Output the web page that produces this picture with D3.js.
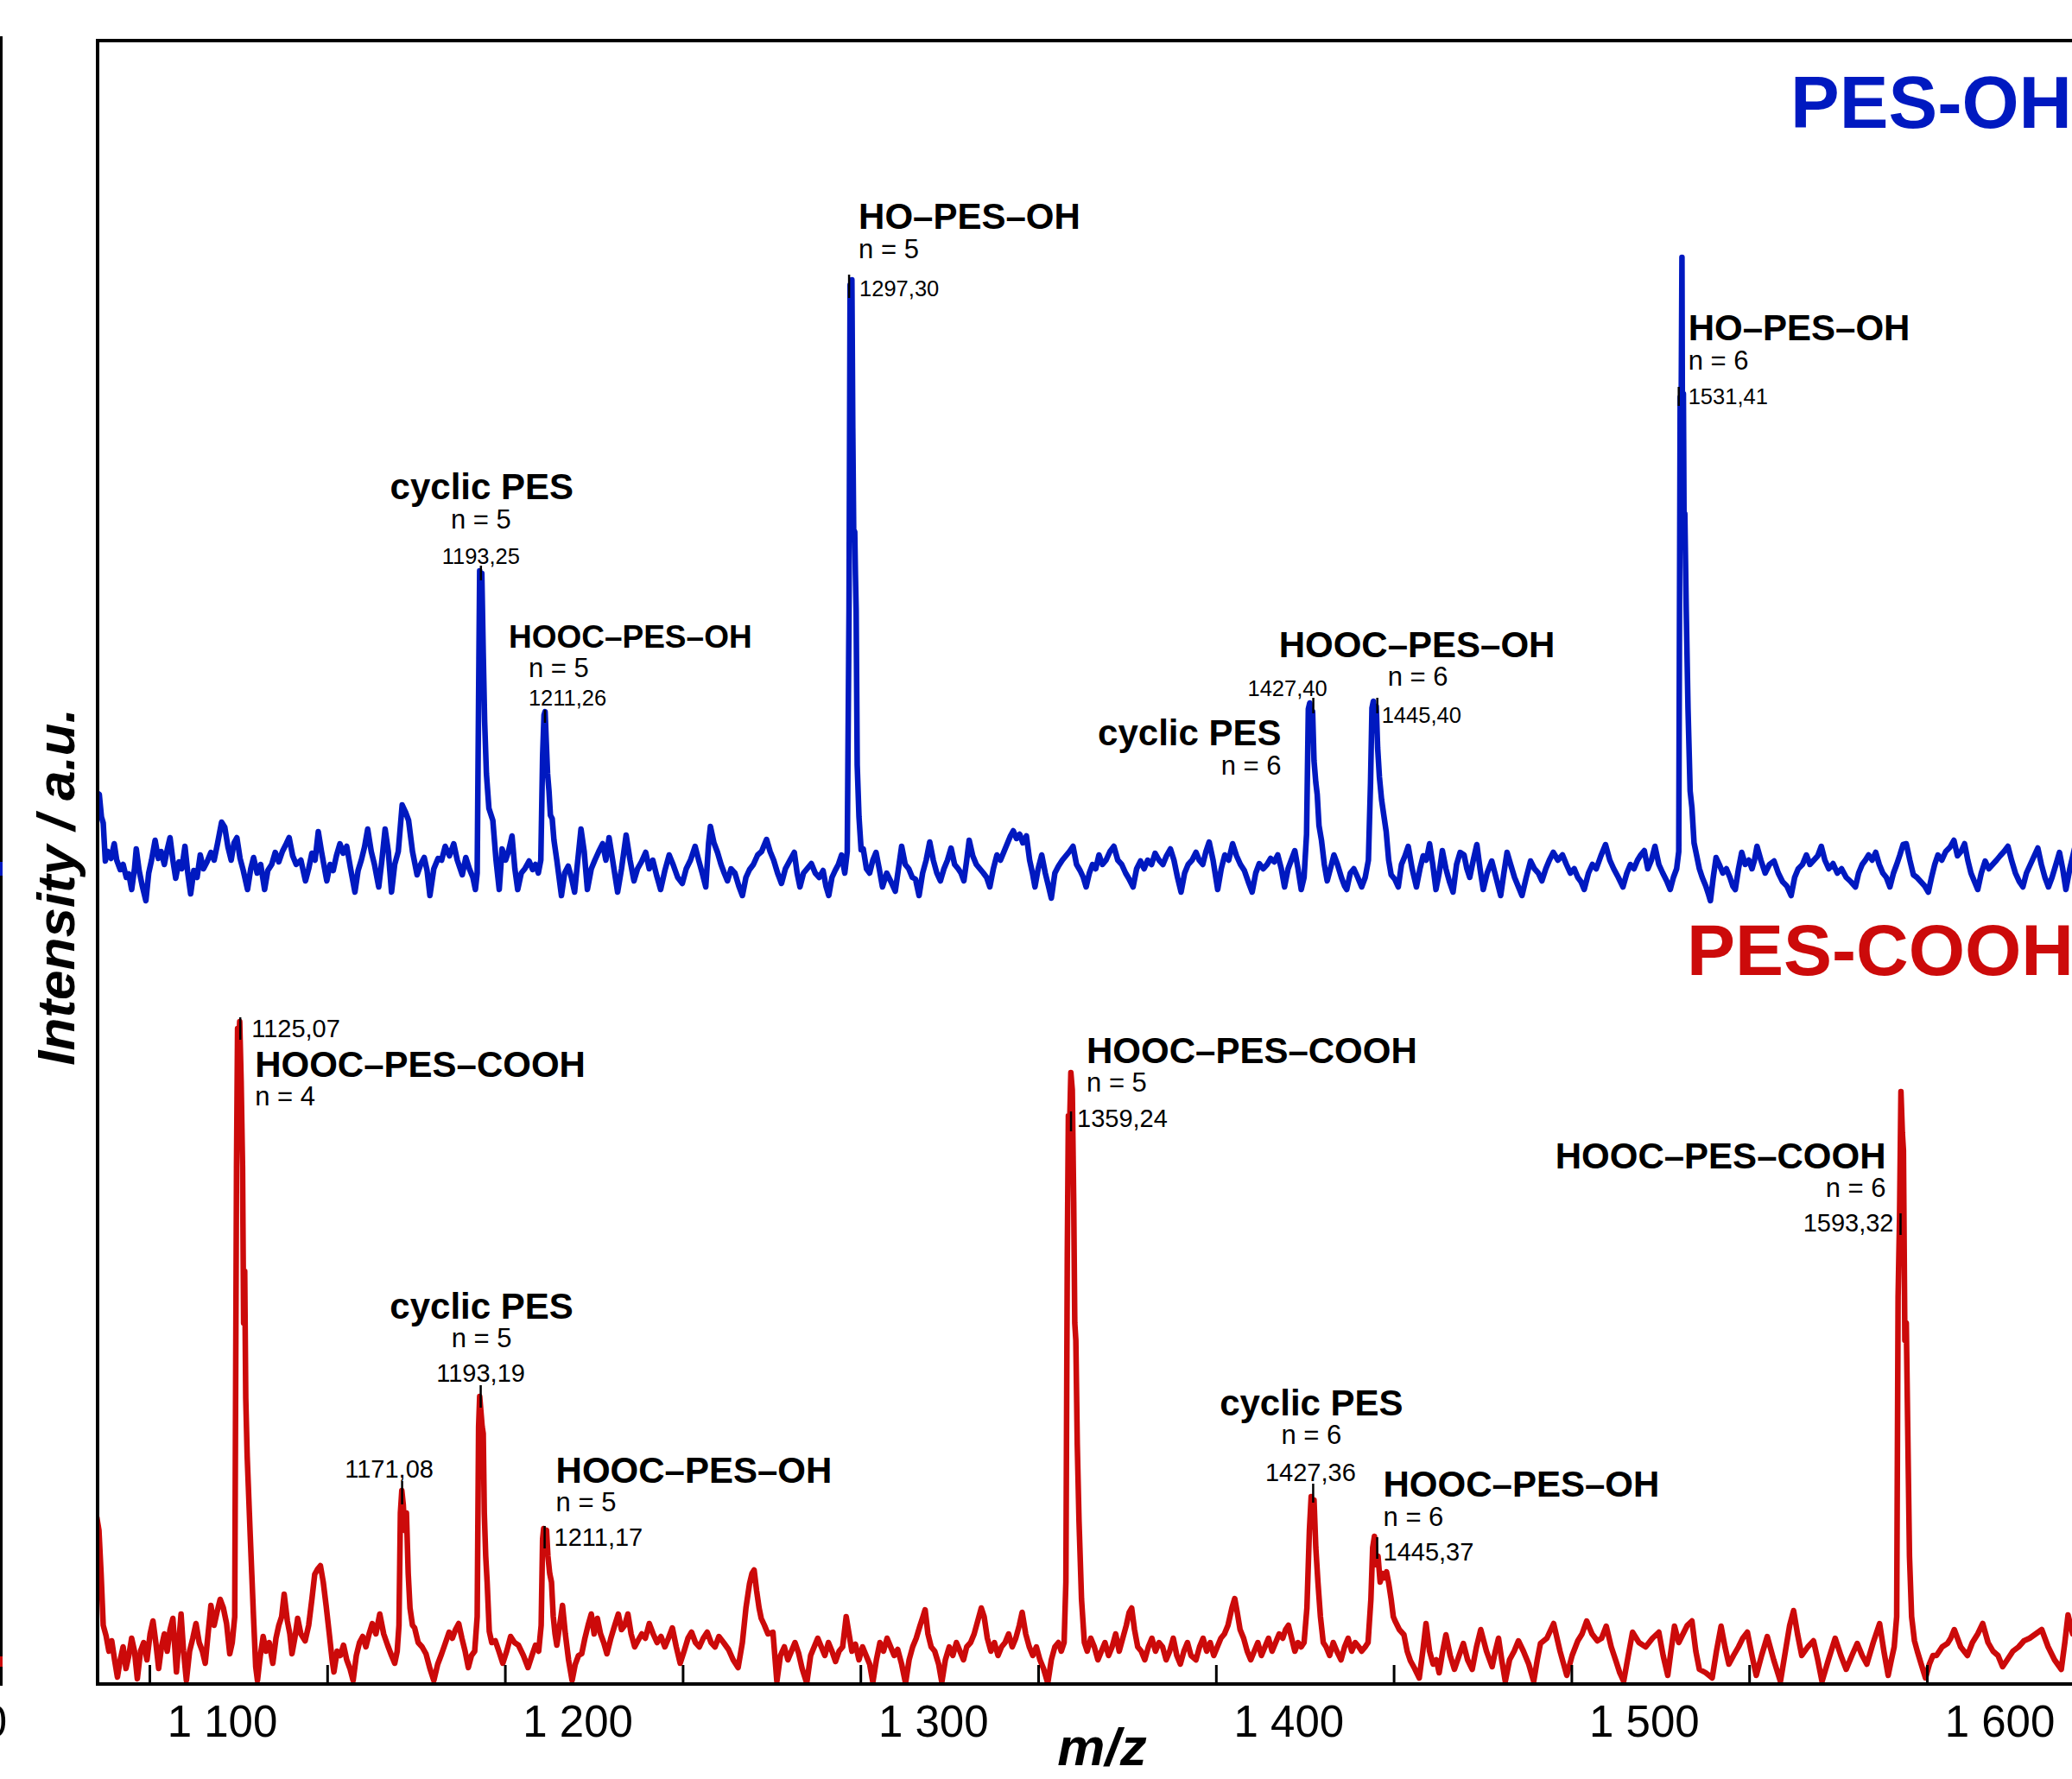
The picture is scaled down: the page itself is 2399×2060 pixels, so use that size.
<!DOCTYPE html>
<html>
<head>
<meta charset="utf-8">
<script src="https://cdn.jsdelivr.net/npm/d3@7"></script>
<style>
  body { margin: 0; background: #fff; }
  text { font-family: "Liberation Sans", Arial, sans-serif; }
</style>
</head>
<body>
<svg id="chart"></svg>
<script>
// ---- data (m/z, intensity a.u.) ----
const blueNoise = [
  [1085.2,138],[1085.9,136],[1086.5,110],[1087,103],[1087.6,59],[1088.3,70],[1089.2,62],[1090.1,79],[1090.8,60],[1091.8,49],
  [1092.6,55],[1093.5,40],[1094.2,44],[1095,26],[1095.8,50],[1096.3,73],[1097.1,48],[1098,30],[1099,13],[1099.8,45],
  [1100.6,60],[1101.6,83],[1102.5,62],[1103.3,70],[1104.2,55],[1105,72],[1105.8,86],[1106.6,60],[1107.4,39],[1108.3,58],
  [1109.1,50],[1110,76],[1110.8,45],[1111.6,21],[1112.5,48],[1113.4,40],[1114.3,66],[1115.2,50],[1116.2,58],[1117.3,69],
  [1118.2,60],[1119.2,80],[1120.3,104],[1121.2,98],[1122.1,75],[1123,60],[1123.8,80],[1124.6,86],[1125.5,62],[1126.4,48],
  [1127.6,26],[1128.5,50],[1129.3,63],[1130.3,45],[1131.3,55],[1132.4,26],[1133.3,48],[1134.4,55],[1135.4,69],[1136.4,58],
  [1137.4,70],[1138.5,79],[1139.3,86],[1140.3,65],[1141.3,55],[1142.6,60],[1143.9,36],[1144.8,50],[1145.7,68],[1146.6,60],
  [1147.5,93],[1148.4,70],[1149.9,36],[1150.8,55],[1151.7,48],[1152.6,65],[1153.6,79],[1154.5,68],[1155.5,76],[1156.6,50],
  [1157.8,23],[1158.7,48],[1159.6,60],[1160.5,75],[1161.4,96],[1162.4,70],[1163.3,55],[1164.5,29],[1165.4,60],[1166.3,96],
  [1167.2,70],[1168.1,23],[1169,55],[1170,70],[1171.1,124],[1172,116],[1172.9,106],[1174,70],[1175.3,43],[1176.3,55],
  [1177.3,63],[1178.1,48],[1178.9,19],[1180,50],[1181.2,62],[1182.2,60],[1183.2,76],[1184.4,65],[1185.6,79],[1186.6,60],
  [1188,43],[1189,63],[1190,50],[1191,40],[1191.7,26],
  [1197.5,60],[1198.4,26],[1199.2,73],[1200.2,60],[1201,70],[1202,88],[1202.8,50],[1203.6,26],[1204.6,45],[1205.6,50],
  [1206.8,59],[1207.8,49],[1208.6,55],[1209.4,45],
  [1214.6,60],[1215.9,19],[1216.8,45],[1217.8,53],[1218.7,40],[1219.6,23],[1220.5,60],[1221.4,96],[1222.3,70],[1223.2,26],
  [1224.3,50],[1225.3,60],[1226.4,70],[1227.5,79],[1228.4,60],[1229.3,86],[1230.3,60],[1231.7,23],[1232.8,50],[1234.1,89],
  [1235.2,60],[1236.3,36],[1237.3,50],[1238.4,58],[1239.6,69],[1240.6,50],[1241.6,60],[1242.7,42],[1243.8,26],[1245,48],
  [1246.2,66],[1247.3,55],[1248.6,40],[1249.9,33],[1251,50],[1252.2,60],[1253.5,76],[1254.5,60],[1255.5,45],[1256.5,29],
  [1257.3,80],[1257.8,99],[1258.8,80],[1259.8,69],[1260.8,55],[1261.7,45],[1262.6,36],[1263.6,50],[1264.7,45],[1265.8,30],
  [1266.8,19],[1267.8,40],[1268.8,49],[1269.9,55],[1271.1,66],[1272.2,70],[1273.6,84],[1274.6,70],[1275.6,60],[1276.7,45],
  [1277.8,33],[1278.9,50],[1280.2,60],[1281.4,69],[1282.2,45],[1283,29],[1284,45],[1285,50],[1286.2,56],[1287.3,45],
  [1288.4,40],[1289.5,48],[1290.3,30],[1291.1,19],[1292,40],[1292.9,48],[1293.8,55],[1294.7,66],[1295.6,45],
  [1300.8,73],[1301.7,50],[1302.6,45],[1303.5,60],[1304.4,69],[1305.3,50],[1306.2,29],[1307.4,45],[1308.6,35],[1309.8,24],
  [1310.7,50],[1311.6,76],[1312.6,55],[1313.6,50],[1314.6,40],[1315.5,38],[1316.5,19],[1317.5,45],[1318.5,60],[1319.5,81],
  [1320.5,60],[1321.5,45],[1322.5,36],[1323.5,50],[1324.5,60],[1325.5,74],[1326.5,55],[1327.5,50],[1328.3,45],[1329.1,36],
  [1329.9,60],[1330.6,83],[1331.6,65],[1332.6,55],[1333.6,50],[1334.6,45],[1335.5,40],[1336.4,29],[1337.4,50],[1338.4,66],
  [1339.4,60],[1340.4,70],[1341.4,80],[1342.2,88],[1343,94],[1343.9,85],[1344.8,90],[1345.7,80],[1346.7,88],[1347.6,60],
  [1348.4,45],[1349.1,29],[1350,50],[1351,66],[1352,45],[1352.9,30],[1353.7,16],[1354.7,45],[1355.7,53],[1356.8,60],
  [1357.8,65],[1358.8,70],[1359.8,76],[1360.8,55],[1361.8,48],[1362.7,40],[1363.5,29],[1364.4,45],[1365.3,55],[1366.2,50],
  [1367.1,66],[1368.1,55],[1369.1,60],[1370.2,70],[1371.3,76],[1372.4,60],[1373.5,55],[1374.6,45],[1375.6,38],[1376.7,29],
  [1377.7,50],[1378.8,59],[1379.8,50],[1380.8,60],[1381.9,55],[1382.9,68],[1384,60],[1385.1,55],[1386.1,65],[1387.2,73],
  [1388.2,60],[1389.2,40],[1390.2,23],[1391.2,45],[1392.2,55],[1393.3,60],[1394.4,69],[1395.3,60],[1396.3,55],[1397.2,70],
  [1398.1,81],[1399.2,60],[1400.5,26],[1401.5,50],[1402.5,66],[1403.6,60],[1404.7,79],[1405.8,65],[1406.9,55],[1408,48],
  [1409.1,35],[1410.2,23],[1411.2,45],[1412.2,56],[1413.3,50],[1414.4,55],[1415.4,62],[1416.4,58],[1417.4,66],[1418.4,50],
  [1419.3,29],[1420.3,50],[1421.2,60],[1422.2,71],[1423.1,50],[1424,26],[1424.8,40],
  [1430.5,55],[1431.3,36],[1432.2,50],[1433.2,66],[1434.2,55],[1435.3,40],[1436.2,30],[1436.8,26],[1437.8,45],[1438.8,50],
  [1439.9,40],[1441,29],[1442,40],
  [1449.3,43],[1450.3,38],[1451.3,29],[1452.2,55],[1453.2,65],[1454.1,76],[1455.2,50],[1456.4,29],[1457.4,50],[1458.3,65],
  [1459.2,60],[1460.1,79],[1461,55],[1461.9,26],[1462.8,45],[1463.7,71],[1464.7,50],[1465.7,35],[1466.7,23],[1467.7,55],
  [1468.7,69],[1469.8,66],[1470.6,50],[1471.4,40],[1472.4,60],[1473.4,78],[1474.3,50],[1475.2,26],[1476.3,45],[1477.6,59],
  [1478.8,40],[1480.1,19],[1481,45],[1481.9,69],[1482.9,55],[1484,40],[1485,30],[1486.1,19],[1487.3,40],[1488.5,59],
  [1489.6,50],[1490.7,45],[1491.7,36],[1492.8,50],[1493.8,60],[1494.9,69],[1496.2,60],[1497.5,66],[1498.6,55],[1499.7,45],
  [1500.8,50],[1501.8,40],[1502.7,35],[1503.6,26],[1504.8,45],[1505.9,55],[1507,50],[1508.3,65],[1509.6,78],[1510.8,60],
  [1511.9,50],[1513.2,40],[1514.5,29],[1515.6,45],[1516.6,55],[1517.6,50],[1518.6,60],[1519.5,66],[1520.5,71],[1521.5,50],
  [1522.5,60],[1523.5,76],[1524.6,55],[1525.7,45],[1526.8,36],[1527.8,26],[1528.7,40],
  [1536.8,40],[1537.8,30],[1538.6,20],[1539.1,13],[1539.9,40],[1540.7,63],[1541.6,55],[1542.6,45],[1543.6,50],[1544.6,40],
  [1545.4,30],[1546.1,26],[1547,50],[1547.9,69],[1548.9,55],[1549.9,60],[1550.8,50],[1551.5,60],[1552.2,76],[1553.3,60],
  [1554.5,45],[1555.7,55],[1557,59],[1558.2,45],[1559.4,35],[1560.6,30],[1561.8,19],[1562.8,40],[1563.8,50],[1565,55],
  [1566.1,66],[1567.1,55],[1568.2,60],[1569.3,65],[1570.3,76],[1571.3,60],[1572.4,50],[1573.6,56],[1574.8,45],[1576,50],
  [1577.3,40],[1578.6,35],[1579.9,29],[1580.8,45],[1581.8,55],[1582.7,60],[1583.6,66],[1584.6,60],[1585.6,69],[1586.6,55],
  [1587.6,45],[1588.6,40],[1589.6,29],[1590.6,45],[1591.5,55],[1592.4,66],[1593.3,78],[1594.2,79],[1595.2,60],[1596.2,43],
  [1597.2,40],[1598.3,35],[1599.4,30],[1600.4,23],[1601.3,40],[1602.2,55],[1603.1,66],[1604.2,60],[1605.3,70],[1606.5,75],
  [1607.6,83],[1608.6,65],[1609.6,70],[1610.6,79],[1611.5,60],[1612.4,45],[1613.4,35],[1614.3,26],[1615.3,45],[1616.4,59],
  [1617.4,50],[1618.5,55],[1619.6,60],[1620.6,65],[1621.7,70],[1622.8,76],[1623.8,60],[1624.9,45],[1626,35],[1627,29],
  [1628,45],[1629.1,55],[1630.2,65],[1631.2,74],[1632.2,55],[1633.2,40],[1634.2,29],[1635.2,40],[1636.3,55],[1637.3,69],
  [1638.2,50],[1639.1,26],[1640.2,50],[1641.5,73]
];
const bluePeaks = [
  [1192.2,45],[1192.6,250],[1192.9,395],[1193.2,350],[1193.5,392],[1193.9,300],[1194.3,220],[1194.8,160],[1195.5,120],[1196.6,106],
  [1210.1,60],[1210.6,180],[1211,228],[1211.3,232],[1211.6,200],[1212,160],[1212.4,140],[1212.8,112],[1213.3,108],[1213.8,83],
  [1296.3,70],[1296.8,350],[1297.1,726],[1297.35,480],[1297.6,732],[1297.85,560],[1298.1,443],[1298.4,440],[1298.6,390],[1298.8,350],[1299.1,170],[1299.6,110],[1300.2,72],
  [1425.5,90],[1426,235],[1426.4,242],[1426.8,200],[1427.2,232],[1427.6,175],[1428.1,150],[1428.5,136],[1429,100],[1429.7,83],
  [1442.9,60],[1443.5,150],[1443.9,236],[1444.3,244],[1444.7,210],[1445.1,238],[1445.5,190],[1446,156],[1446.6,130],[1447.3,110],[1447.9,93],[1448.6,60],
  [1529.6,50],[1530.2,70],[1530.6,596],[1530.85,560],[1531.1,758],[1531.3,430],[1531.5,600],[1531.7,440],[1531.9,461],[1532.3,350],[1532.8,236],[1533.4,140],[1533.9,121],[1534.5,80],[1535.2,66],[1536,50]
];

const redNoise = [
  [1085.2,195],[1085.8,180],[1086.4,130],[1087,70],[1087.8,58],[1088.6,40],[1089.4,52],[1090.2,30],[1091,10],[1091.8,30],
  [1092.6,45],[1093.4,20],[1094.2,35],[1095,55],[1095.8,40],[1096.6,8],[1097.5,40],[1098.4,50],[1099.3,30],[1100.2,60],
  [1101,75],[1101.8,50],[1102.6,20],[1103.4,45],[1104.2,60],[1105,40],[1105.8,65],[1106.6,78],[1107.6,16],[1108.9,83],
  [1109.6,40],[1110.4,6],[1111.3,40],[1112.2,55],[1113.1,72],[1114,50],[1114.9,40],[1115.7,26],[1116.5,60],[1117.3,93],
  [1118.2,70],[1119,85],[1119.9,100],[1120.8,90],[1121.7,72],[1122.6,37],[1123.3,50],
  [1130.4,6],[1131.2,35],[1132,57],[1132.8,40],[1133.7,50],[1134.7,26],[1135.6,55],[1136.4,70],[1137.2,80],[1137.9,106],
  [1138.8,75],[1139.5,60],[1140.1,37],[1140.9,55],[1141.7,78],[1142.6,60],[1143.8,52],[1144.8,70],[1145.7,100],[1146.5,129],
  [1147.3,135],[1148.1,139],[1148.9,120],[1149.7,93],[1150.6,60],[1151.4,30],[1151.9,16],[1152.8,40],[1153.7,35],[1154.6,47],
  [1155.5,30],[1156.4,20],[1157.3,6],[1158.2,35],[1159.1,50],[1160,57],[1160.9,45],[1161.8,60],[1162.7,72],[1163.7,60],
  [1164.8,83],[1165.9,60],[1167,47],[1168.1,35],[1169,26],
  [1174.6,67],[1175.6,50],[1176.7,45],[1177.8,37],[1178.9,20],[1180,6],[1181.1,25],[1182.2,37],[1183.3,50],[1184.3,62],
  [1185.2,55],[1186.1,65],[1187,72],[1187.9,55],[1188.8,40],[1189.7,21],[1190.6,35],[1191.5,40],
  [1197.3,52],[1198.3,40],[1199.4,26],[1200.5,40],[1201.6,57],[1202.7,50],[1203.8,47],[1205.2,35],[1206.5,21],[1207.6,35],
  [1208.6,47],[1209.5,40],
  [1214.6,47],[1215.4,70],[1216.2,93],[1217,60],[1217.9,30],[1218.9,6],[1219.8,25],[1220.7,35],[1221.6,37],[1222.5,55],
  [1223.4,70],[1224.3,83],[1225.1,60],[1226,78],[1226.9,60],[1227.8,50],[1228.7,37],[1229.8,55],[1230.9,70],[1231.9,83],
  [1232.8,65],[1233.7,70],[1234.6,83],[1235.5,60],[1236.5,45],[1237.4,52],[1238.5,60],[1239.5,55],[1240.6,72],[1241.7,60],
  [1242.8,50],[1243.9,57],[1245,45],[1246,55],[1247.1,67],[1248.2,45],[1249.3,26],[1250.4,40],[1251.5,55],[1252.5,62],
  [1253.6,50],[1254.7,45],[1255.8,55],[1256.9,62],[1258,50],[1259.1,45],[1260.2,57],[1261.5,50],[1262.9,42],[1264.2,30],
  [1265.6,21],[1266.8,50],[1267.8,90],[1268.8,118],[1269.5,130],[1270.1,134],[1270.8,110],[1271.5,90],[1272.1,78],[1273,70],
  [1274,60],[1275.4,62],[1276.5,5],[1277.5,35],[1278.6,45],[1279.6,30],[1280.6,40],[1281.6,50],[1282.6,38],[1283.6,20],
  [1284.9,3],[1286,35],[1287,45],[1288,55],[1289,45],[1290,35],[1291,50],[1292,40],[1293,28],[1294,40],
  [1295,45],[1296,80],[1296.8,60],[1297.6,40],[1298.6,48],[1299.6,30],[1300.6,45],[1301.6,35],[1302.6,25],[1303.5,4],
  [1304.5,30],[1305.5,50],[1306.5,40],[1307.5,55],[1308.5,45],[1309.5,35],[1310.5,42],[1311.6,25],[1312.7,3],[1313.7,30],
  [1314.7,45],[1315.7,55],[1316.8,70],[1317.6,80],[1318.2,88],[1319,60],[1319.9,45],[1320.9,40],[1322,25],[1322.9,4],
  [1323.9,30],[1325,45],[1326,35],[1327,50],[1328,40],[1329,30],[1329.9,45],[1331,50],[1332,60],[1333,75],
  [1334,90],[1334.8,80],[1335.7,55],[1336.7,40],[1337.7,50],[1338.7,35],[1339.7,45],[1340.7,50],[1341.7,60],[1342.7,45],
  [1343.7,55],[1344.7,70],[1345.5,85],[1346.5,60],[1347.5,45],[1348.5,35],[1349.5,45],[1350.5,30],[1351.5,20],[1352.7,3],
  [1353.7,30],[1354.7,45],[1355.7,50],[1356.5,40],
  [1363.8,40],[1364.8,55],[1365.8,45],[1366.8,30],[1367.8,40],[1368.8,50],[1369.8,35],[1370.8,45],[1371.8,60],[1372.8,40],
  [1373.8,55],[1374.8,70],[1375.6,85],[1376.3,90],[1377.1,65],[1378,45],[1379,40],[1380,30],[1381,45],[1382,55],
  [1383,40],[1384,50],[1385,45],[1386,30],[1387,40],[1388,55],[1389,35],[1390,25],[1391,40],[1392,50],
  [1393,35],[1394.4,30],[1395.4,45],[1396.4,55],[1397.4,40],[1398.4,50],[1399.4,35],[1400.4,45],[1401.4,55],[1402.4,60],
  [1403.4,70],[1404.5,90],[1405.3,101],[1406,85],[1406.8,65],[1407.8,55],[1408.8,40],[1409.8,30],[1410.8,40],[1411.8,50],
  [1412.8,35],[1413.8,45],[1414.8,55],[1415.8,40],[1416.8,50],[1417.8,60],[1418.8,55],[1419.6,65],[1420.4,70],[1421.3,55],
  [1422.2,40],[1423.1,50],[1424,45],
  [1431,45],[1432,35],[1433,50],[1434,40],[1435.2,30],[1436.2,45],[1437.2,55],[1438.2,40],[1439.2,50],[1440.2,45],
  [1441,40],[1442,45],
  [1451.6,65],[1452.9,59],[1453.8,40],[1454.7,29],[1455.9,20],[1457.2,9],[1458.2,40],[1459.1,72],[1460.1,40],[1461.1,25],
  [1462,30],[1462.8,15],[1463.8,40],[1464.7,59],[1465.9,35],[1467.1,19],[1468.4,35],[1469.6,49],[1470.8,30],[1472.1,19],
  [1473.3,45],[1474.5,65],[1476.1,40],[1477.7,22],[1478.6,40],[1479.5,55],[1480.4,30],[1481.4,5],[1482.6,30],[1483.9,40],
  [1485.1,52],[1486.5,40],[1488,25],[1489.4,5],[1490.4,30],[1491.3,49],[1493.1,55],[1495,72],[1496.8,40],[1498.7,12],
  [1500.2,35],[1501.8,52],[1503,60],[1504.3,75],[1505.8,60],[1507.3,52],[1508.5,55],[1509.8,69],[1511.2,45],[1512.5,29],
  [1513.6,15],[1514.7,5],[1516,35],[1517.2,62],[1519,50],[1520.9,45],[1522.8,55],[1524.6,62],[1525.8,35],[1527.1,12],
  [1528,40],[1529,69],[1530.2,50],[1531.4,60],[1532.6,70],[1533.9,75],[1535,40],[1536,19],[1537.8,15],[1539.6,9],
  [1540.8,40],[1542.1,69],[1543.2,45],[1544.3,25],[1545.6,35],[1547,45],[1548.2,55],[1549.5,62],[1550.8,35],[1552,12],
  [1553.5,35],[1555.1,57],[1556.9,30],[1558.8,5],[1560.2,40],[1561.4,70],[1562.5,87],[1563.6,60],[1564.8,35],[1566.5,45],
  [1568.1,52],[1569.3,30],[1570.5,5],[1572.3,30],[1574.2,55],[1575.8,35],[1577.3,19],[1578.9,35],[1580.4,49],[1581.8,35],
  [1583.1,25],[1584.9,50],[1586.7,72],[1587.9,40],[1589.1,12],[1590,30],
  [1597.3,40],[1598.4,25],[1599.6,9],[1600.7,25],[1601.7,35],[1602.7,35],[1604.3,45],[1605.8,49],[1606.7,55],[1607.7,65],
  [1609.5,45],[1611.4,35],[1612.8,50],[1614.3,60],[1615.7,72],[1617.2,50],[1618.6,40],[1620,35],[1621.3,22],[1622.6,30],
  [1624.2,40],[1625.8,45],[1627.3,52],[1628.9,55],[1630.6,60],[1632.3,65],[1634.1,45],[1635.9,30],[1637.8,19],[1638.8,50],
  [1639.7,82],[1641,60]
];
const redPeaks = [
  [1124,80],[1124.5,600],[1124.8,761],[1125.1,740],[1125.4,769],[1125.8,700],[1126.2,600],[1126.5,420],[1126.8,480],[1127.1,333],[1127.5,266],[1128.3,180],[1128.8,129],[1129.3,78],[1129.9,22],
  [1169.7,40],[1170.2,70],[1170.6,200],[1171,226],[1171.4,210],[1171.8,180],[1172.3,200],[1172.8,130],[1173.3,90],[1174,70],
  [1192.2,80],[1192.6,300],[1192.9,335],[1193.2,320],[1193.6,300],[1193.9,292],[1194.2,200],[1194.6,150],[1195,120],[1195.6,63],[1196.3,50],
  [1210.2,70],[1210.6,170],[1210.9,182],[1211.3,160],[1211.7,180],[1212.1,150],[1212.6,130],[1213.1,120],[1213.6,80],[1214.1,60],
  [1357.3,50],[1357.8,120],[1358.2,500],[1358.5,660],[1358.8,640],[1359.2,710],[1359.6,690],[1360,560],[1360.3,420],[1360.6,400],[1361,280],[1361.5,190],[1362.2,100],[1363,50],
  [1424.8,50],[1425.6,90],[1426.3,180],[1426.8,219],[1427.2,200],[1427.6,215],[1428.1,160],[1428.7,120],[1429.4,80],[1430.2,50],
  [1442.8,50],[1443.6,100],[1444.1,160],[1444.6,173],[1445.1,140],[1445.6,150],[1446.2,120],[1446.8,130],[1447.4,125],[1448,132],[1448.6,119],[1449.3,100],[1449.9,80],[1450.4,75],
  [1590.8,45],[1591.5,80],[1591.9,450],[1592.3,540],[1592.7,688],[1593.1,640],[1593.4,620],[1593.8,400],[1594.2,420],[1594.6,300],[1595.1,150],[1595.7,80],[1596.5,52]
];

const tickValues = [1100, 1150, 1200, 1250, 1300, 1350, 1400, 1450, 1500, 1550, 1600];

// peak annotations: m/z of peak, intensity at the marked point, texts
const blueLabels = [
  { mz: 1193.25, top: 395, name: "cyclic PES", n: "n = 5", value: "1193,25" },
  { mz: 1211.26, top: 232, name: "HOOC–PES–OH", n: "n = 5", value: "1211,26" },
  { mz: 1297.30, top: 732, name: "HO–PES–OH", n: "n = 5", value: "1297,30" },
  { mz: 1427.40, top: 242, name: "cyclic PES", n: "n = 6", value: "1427,40" },
  { mz: 1445.40, top: 244, name: "HOOC–PES–OH", n: "n = 6", value: "1445,40" },
  { mz: 1531.41, top: 596, name: "HO–PES–OH", n: "n = 6", value: "1531,41" }
];
const redLabels = [
  { mz: 1125.07, top: 769, name: "HOOC–PES–COOH", n: "n = 4", value: "1125,07" },
  { mz: 1193.19, top: 335, name: "cyclic PES", n: "n = 5", value: "1193,19" },
  { mz: 1171.08, top: 226, name: "", n: "", value: "1171,08" },
  { mz: 1211.17, top: 182, name: "HOOC–PES–OH", n: "n = 5", value: "1211,17" },
  { mz: 1359.24, top: 710, name: "HOOC–PES–COOH", n: "n = 5", value: "1359,24" },
  { mz: 1593.32, top: 688, name: "HOOC–PES–COOH", n: "n = 6", value: "1593,32" },
  { mz: 1427.36, top: 219, name: "cyclic PES", n: "n = 6", value: "1427,36" },
  { mz: 1445.37, top: 173, name: "HOOC–PES–OH", n: "n = 6", value: "1445,37" }
];

// ---- layout ----
const W = 2399, H = 2060;
const blue = "#0019c0", red = "#cc0a0a";
const frame = { left: 113, top: 47, bottom: 1950 };

// text placement per label: [dx from peak, baseline y, anchor, size]; tick: [dy1, dy2, dx]
const blueLayout = [
  { name: [1, 578, "middle", 42], n: [0, 612, "middle"], value: [0, 653, "middle"], tick: [-6, 11, 0] },
  { name: [-42, 750, "start", 37], n: [-19, 784, "start"], value: [-19, 817, "start"], tick: [-2, 13, 0] },
  { name: [9, 265, "start", 42], n: [9, 299, "start"], value: [10, 343, "start"], tick: [-6, 21, -2] },
  { name: [-37, 863, "end", 42], n: [-37, 897, "end"], value: [-30, 806, "middle"], tick: [-6, 12, 0] },
  { name: [-114, 761, "start", 42], n: [12, 794, "start"], value: [5, 837, "start"], tick: [-4, 14, 0] },
  { name: [6, 394, "start", 42], n: [6, 428, "start"], value: [6, 468, "start"], tick: [-12, 10, -5] }
];
const redLayout = [
  { name: [19, 1247, "start", 42], n: [19, 1280, "start"], value: [15, 1201, "start"], tick: [-5, 21, 2] },
  { name: [1, 1527, "middle", 42], n: [1, 1560, "middle"], value: [0, 1600, "middle"], tick: [-13, 13, 0] },
  { name: [0, 0, "start", 42], n: [0, 0, "start"], value: [-15, 1711, "middle"], tick: [-11, 16, 0] },
  { name: [13, 1717, "start", 42], n: [13, 1750, "start"], value: [11, 1790, "start"], tick: [-3, 23, 0] },
  { name: [18, 1231, "start", 42], n: [18, 1264, "start"], value: [7, 1305, "start"], tick: [45, 68, 0] },
  { name: [-20, 1353, "end", 42], n: [-20, 1386, "end"], value: [-11, 1426, "end"], tick: [141, 166, -3] },
  { name: [-2, 1639, "middle", 42], n: [-2, 1672, "middle"], value: [-3, 1715, "middle"], tick: [-15, 7, 0] },
  { name: [7, 1733, "start", 42], n: [7, 1767, "start"], value: [7, 1807, "start"], tick: [1, 26, 0] }
];

const svg = d3.select("#chart").attr("width", W).attr("height", H)
  .style("background", "#fff");

const x = d3.scaleLinear().domain([1100, 1600]).range([173, 2231]);
const yBlue = d3.scaleLinear().domain([0, 761]).range([1056, 295]);
const yRed = d3.scaleLinear().domain([0, 769]).range([1952, 1183]);

svg.append("defs").append("clipPath").attr("id", "plot")
  .append("rect")
  .attr("x", frame.left).attr("y", frame.top)
  .attr("width", W - frame.left).attr("height", frame.bottom - frame.top);

const byMz = (a, b) => a[0] - b[0];
const blueSeries = blueNoise.concat(bluePeaks).sort(byMz);
const redSeries = redNoise.concat(redPeaks).sort(byMz);

const plot = svg.append("g").attr("clip-path", "url(#plot)");

plot.append("path")
  .datum(blueSeries)
  .attr("d", d3.line().x(d => x(d[0])).y(d => yBlue(d[1])))
  .attr("fill", "none")
  .attr("stroke", blue)
  .attr("stroke-width", 6.5)
  .attr("stroke-linejoin", "round")
  .attr("stroke-linecap", "round");

plot.append("path")
  .datum(redSeries)
  .attr("d", d3.line().x(d => x(d[0])).y(d => yRed(d[1])))
  .attr("fill", "none")
  .attr("stroke", red)
  .attr("stroke-width", 6.5)
  .attr("stroke-linejoin", "round")
  .attr("stroke-linecap", "round");

// frame: left + top lines
svg.append("path")
  .attr("d", `M${frame.left},${frame.bottom} V${frame.top} H${W + 5}`)
  .attr("fill", "none")
  .attr("stroke", "#000")
  .attr("stroke-width", 4);

// remnant of the neighbouring panel on the far left
svg.append("line")
  .attr("x1", 1.5).attr("x2", 1.5).attr("y1", 42).attr("y2", 1952)
  .attr("stroke", "#000").attr("stroke-width", 3);
svg.append("rect").attr("x", 0).attr("y", 998).attr("width", 3).attr("height", 16).attr("fill", blue);
svg.append("rect").attr("x", 0).attr("y", 1918).attr("width", 3).attr("height", 12).attr("fill", red);
svg.append("text").attr("x", 8).attr("y", 2011).attr("text-anchor", "end")
  .style("font-size", "51px").text("0");

// x axis (labels sit 84 px right of their ticks, as in the original)
const fmt = d3.formatLocale({ decimal: ",", thousands: " ", grouping: [3], currency: ["", ""] }).format(",");
const axisG = svg.append("g").attr("transform", `translate(0,${frame.bottom})`)
  .call(d3.axisBottom(x)
    .tickValues(tickValues)
    .tickSize(-22)
    .tickFormat(d => d % 100 === 0 ? fmt(d) : ""));
axisG.select(".domain").remove();
axisG.selectAll(".tick line").attr("stroke", "#000").attr("stroke-width", 3);
axisG.selectAll(".tick text")
  .attr("y", 61).attr("dy", 0).attr("dx", 84)
  .attr("fill", "#000")
  .style("font-size", "51px")
  .style("font-family", '"Liberation Sans", Arial, sans-serif');
svg.append("line")
  .attr("x1", frame.left - 2).attr("x2", W + 5)
  .attr("y1", frame.bottom).attr("y2", frame.bottom)
  .attr("stroke", "#000").attr("stroke-width", 4);

// axis titles
svg.append("text")
  .attr("x", 1276).attr("y", 2044)
  .attr("text-anchor", "middle")
  .style("font-size", "62px").style("font-weight", "bold").style("font-style", "italic")
  .text("m/z");
svg.append("text")
  .attr("transform", "translate(86,1027) rotate(-90)")
  .attr("text-anchor", "middle")
  .style("font-size", "62px").style("font-weight", "bold").style("font-style", "italic")
  .text("Intensity / a.u.");

// sample titles
svg.append("text").attr("x", 2399).attr("y", 148).attr("text-anchor", "end")
  .attr("fill", blue).style("font-size", "85px").style("font-weight", "bold")
  .text("PES-OH");
svg.append("text").attr("x", 2401).attr("y", 1129).attr("text-anchor", "end")
  .attr("fill", red).style("font-size", "84px").style("font-weight", "bold")
  .text("PES-COOH");

// peak annotations
function annotate(labels, layout, yScale, valueSize) {
  labels.forEach((d, i) => {
    const L = layout[i];
    const px = x(d.mz);
    const py = yScale(d.top);
    const g = svg.append("g");
    g.append("line")
      .attr("x1", px + L.tick[2]).attr("x2", px + L.tick[2])
      .attr("y1", py + L.tick[0]).attr("y2", py + L.tick[1])
      .attr("stroke", "#000").attr("stroke-width", 2.5);
    if (d.name) {
      g.append("text")
        .attr("x", px + L.name[0]).attr("y", L.name[1])
        .attr("text-anchor", L.name[2])
        .style("font-size", L.name[3] + "px").style("font-weight", "bold")
        .text(d.name);
    }
    if (d.n) {
      g.append("text")
        .attr("x", px + L.n[0]).attr("y", L.n[1])
        .attr("text-anchor", L.n[2])
        .style("font-size", "31px")
        .text(d.n);
    }
    g.append("text")
      .attr("x", px + L.value[0]).attr("y", L.value[1])
      .attr("text-anchor", L.value[2])
      .style("font-size", valueSize + "px")
      .text(d.value);
  });
}
annotate(blueLabels, blueLayout, yBlue, 25.5);
annotate(redLabels, redLayout, yRed, 29);
</script>
</body>
</html>
